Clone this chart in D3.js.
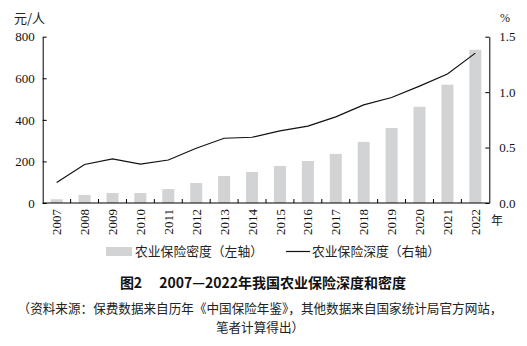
<!DOCTYPE html>
<html><head><meta charset="utf-8">
<script src="https://cdn.jsdelivr.net/npm/d3@7"></script>
<style>
body{margin:0;background:#fff;}
svg{display:block;}
.cjk{font-family:"Noto Sans CJK SC",sans-serif;}
.num{font-family:"Liberation Serif","Times New Roman",serif;}
</style></head>
<body>
<svg id="c" width="527" height="346"></svg>
<script>
const years = ["2007","2008","2009","2010","2011","2012","2013","2014","2015","2016","2017","2018","2019","2020","2021","2022"];
const density = [18,39,48,48,67,96,130,149,178,202,236,294,361,463,569,737];
const depth = [0.184,0.347,0.398,0.350,0.388,0.494,0.584,0.593,0.650,0.693,0.777,0.885,0.952,1.054,1.163,1.352];
const leftTicks = [0,200,400,600,800];
const rightTicks = [0,0.5,1.0,1.5];
const legendLabels = ["农业保险密度（左轴）","农业保险深度（右轴）"];
const titleText = "图2\u2003 2007—2022年我国农业保险深度和密度";
const sourceLines = ["（资料来源：保费数据来自历年《中国保险年鉴》，其他数据来自国家统计局官方网站，","笔者计算得出）"];

const svg = d3.select("#c");
const L = 42.7, R = 489.3, T = 36.7, B = 203;
const x = d3.scaleBand().domain(years).range([L, R]).paddingInner(0.57).paddingOuter(0.285);
const yL = d3.scaleLinear().domain([0, 800]).range([B, T]);
const yR = d3.scaleLinear().domain([0, 1.5]).range([B, T]);

// bars
svg.append("g").selectAll("rect").data(years).join("rect")
  .attr("x", (d) => x(d)).attr("width", x.bandwidth())
  .attr("y", (d, i) => yL(density[i])).attr("height", (d, i) => B - yL(density[i]))
  .attr("fill", "#d2d3d5");

// line
const line = d3.line().x((d, i) => x(years[i]) + x.bandwidth() / 2).y((d) => yR(d));
svg.append("path").datum(depth).attr("d", line)
  .attr("fill", "none").attr("stroke", "#111").attr("stroke-width", 1.2);

// left axis
const ga = svg.append("g").attr("transform", `translate(${L},0)`)
  .call(d3.axisLeft(yL).tickValues(leftTicks).tickSizeInner(-4).tickSizeOuter(0).tickPadding(8));
// right axis
const gb = svg.append("g").attr("transform", `translate(${R},0)`)
  .call(d3.axisRight(yR).tickValues(rightTicks).tickFormat(d3.format(".1f")).tickSizeInner(-4).tickSizeOuter(0).tickPadding(10));
[ga, gb].forEach(g => {
  g.select(".domain").attr("stroke", "#000").attr("stroke-width", 1);
  g.selectAll(".tick line").attr("stroke", "#000");
  g.selectAll("text").attr("class", "num").attr("font-size", 13).attr("fill", "#111");
});

// bottom axis line
svg.append("line").attr("x1", L).attr("x2", R).attr("y1", B).attr("y2", B).attr("stroke", "#000");
// bottom boundary ticks
const step = x.step();
svg.append("g").selectAll("line").data(years.slice(0, -1)).join("line")
  .attr("x1", d => x(d) + x.bandwidth() / 2 + step / 2)
  .attr("x2", d => x(d) + x.bandwidth() / 2 + step / 2)
  .attr("y1", B).attr("y2", B - 4).attr("stroke", "#000");
// year labels
svg.append("g").selectAll("text").data(years).join("text")
  .attr("class", "num").attr("font-size", 13).attr("fill", "#111")
  .attr("text-anchor", "end").attr("dy", "0.35em")
  .attr("transform", d => `translate(${x(d) + x.bandwidth() / 2},${B + 6}) rotate(-90)`)
  .text(d => d);

// unit labels
svg.append("text").attr("class", "cjk").attr("x", 14).attr("y", 23).attr("font-size", 13).attr("fill", "#222").text("元/人");
svg.append("text").attr("class", "num").attr("x", 500).attr("y", 22).attr("font-size", 12).attr("fill", "#222").text("%");
svg.append("text").attr("class", "cjk").attr("x", 491).attr("y", 225).attr("font-size", 12).attr("fill", "#222").text("年");

// legend
svg.append("rect").attr("x", 106).attr("y", 247).attr("width", 26).attr("height", 9).attr("fill", "#d2d3d5");
svg.append("text").attr("class", "cjk").attr("x", 135).attr("y", 256).attr("font-size", 12.8).attr("fill", "#222").text(legendLabels[0]);
svg.append("line").attr("x1", 286).attr("x2", 310).attr("y1", 251.5).attr("y2", 251.5).attr("stroke", "#111").attr("stroke-width", 1.2);
svg.append("text").attr("class", "cjk").attr("x", 312).attr("y", 256).attr("font-size", 12.8).attr("fill", "#222").text(legendLabels[1]);

// title
svg.append("text").attr("class", "cjk").attr("x", 263).attr("y", 288).attr("text-anchor", "middle")
  .attr("font-size", 14).attr("font-weight", "bold").attr("fill", "#111").style("white-space", "pre").text(titleText);

// source
svg.append("text").attr("class", "cjk").attr("x", 260).attr("y", 312.5).attr("text-anchor", "middle")
  .attr("font-size", 12.6).attr("fill", "#222").text(sourceLines[0]);
svg.append("text").attr("class", "cjk").attr("x", 260).attr("y", 331.5).attr("text-anchor", "middle")
  .attr("font-size", 12.6).attr("fill", "#222").text(sourceLines[1]);
</script>
</body></html>
